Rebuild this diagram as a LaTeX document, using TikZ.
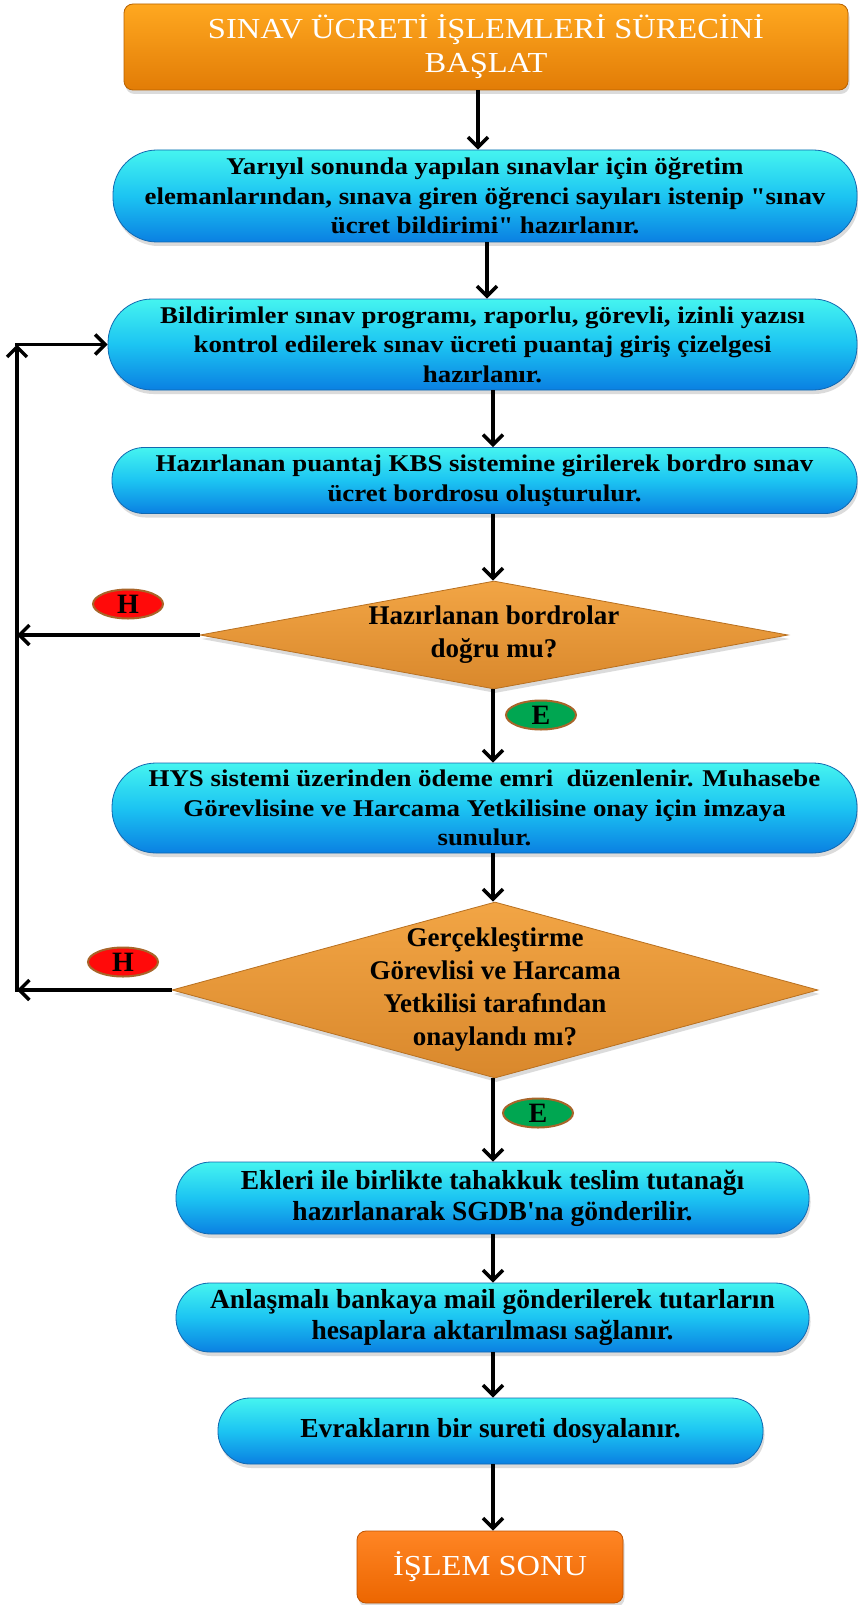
\documentclass[tikz,border=0pt]{standalone}
\usepackage{fontspec}
\setmainfont{Liberation Serif}
\newfontfamily\widefont{Liberation Serif}[FakeStretch=1.12]
\newfontfamily\narrowfont{Liberation Serif}
\usetikzlibrary{shapes.geometric,arrows.meta,shadows}
\definecolor{blueT}{HTML}{45F4F0}
\definecolor{blueM}{HTML}{1CC4F2}
\definecolor{blueB}{HTML}{0A80E2}
\definecolor{blueE}{HTML}{1268B0}
\definecolor{orT}{HTML}{FFA820}
\definecolor{orB}{HTML}{E27C06}
\definecolor{orE}{HTML}{B86200}
\definecolor{diT}{HTML}{F2A545}
\definecolor{diB}{HTML}{D9882C}
\definecolor{diE}{HTML}{B87020}
\definecolor{enT}{HTML}{FF8524}
\definecolor{enB}{HTML}{EC6600}
\definecolor{hred}{HTML}{FF0A0A}
\definecolor{egreen}{HTML}{00A651}
\definecolor{lbl}{HTML}{A8652A}
\tikzset{
  shadowed/.style={drop shadow={opacity=0.28, shadow xshift=1.5pt, shadow yshift=-4pt}},
  startbox/.style={shadowed, rounded corners=9pt, top color=orT, bottom color=orB, draw=orE, line width=0.8pt,
    text=white, align=center, inner sep=0pt, font=\widefont\fontsize{29}{34}\selectfont},
  endbox/.style={shadowed, rounded corners=9pt, top color=enT, bottom color=enB, draw=enB!80!black, line width=0.8pt,
    text=white, align=center, inner sep=0pt, font=\widefont\fontsize{29}{34}\selectfont},
  bluebox/.style={shadowed, rounded corners=#1, top color=blueT, bottom color=blueB, middle color=blueM,
    draw=blueE, line width=0.8pt, align=center, inner sep=0pt},
  widetext/.style={font=\widefont\bfseries\fontsize{24}{29.5}\selectfont},
  narrowtext/.style={font=\narrowfont\bfseries\fontsize{27.5}{31}\selectfont},
  decision/.style={shadowed, diamond, inner sep=0pt, top color=diT, bottom color=diB, draw=diE, line width=0.8pt},
  dtext/.style={align=center, inner sep=0pt, font=\narrowfont\bfseries\fontsize{27}{33}\selectfont},
  tag/.style={ellipse, draw=lbl, line width=2pt, minimum width=70pt, minimum height=29pt, inner sep=0pt,
    font=\narrowfont\bfseries\fontsize{28}{28}\selectfont},
  arr/.style={line width=3.5pt, -{Straight Barb[length=10pt,width=20pt]}},
  ln/.style={line width=3.5pt}
}
\begin{document}
\begin{tikzpicture}[x=1pt,y=1pt]
\useasboundingbox (0,0) rectangle (858,-1605);
\fill[white] (0,0) rectangle (858,-1605);

\node[startbox, minimum width=724pt, minimum height=86pt] (top) at (486,-47)
  {SINAV ÜCRETİ İŞLEMLERİ SÜRECİNİ\\BAŞLAT};
\node[bluebox=44pt, widetext, minimum width=744pt, minimum height=92pt] (b2) at (485,-196)
  {Yarıyıl sonunda yapılan sınavlar için öğretim\\elemanlarından, sınava giren öğrenci sayıları istenip "sınav\\ücret bildirimi" hazırlanır.};
\node[bluebox=44pt, widetext, minimum width=749pt, minimum height=91pt] (b3) at (482.5,-344.5)
  {Bildirimler sınav programı, raporlu, görevli, izinli yazısı\\kontrol edilerek sınav ücreti puantaj giriş çizelgesi\\hazırlanır.};
\node[bluebox=32pt, widetext, minimum width=745pt, minimum height=66pt] (b4) at (484.5,-480.5)
  {Hazırlanan puantaj KBS sistemine girilerek bordro sınav\\ücret bordrosu oluşturulur.};
\node[decision, minimum width=588pt, minimum height=108pt] (d1) at (494,-635) {};
\node[dtext] (d1t) at (d1.center) {Hazırlanan bordrolar\\doğru mu?};
\node[bluebox=44pt, widetext, minimum width=745pt, minimum height=90pt] (b5) at (484.5,-808)
  {HYS sistemi üzerinden ödeme emri\ \ düzenlenir. Muhasebe\\Görevlisine ve Harcama Yetkilisine onay için imzaya\\sunulur.};
\node[decision, minimum width=646pt, minimum height=176pt] (d2) at (495,-990) {};
\node[dtext] (d2t) at (d2.center) {Gerçekleştirme\\Görevlisi ve Harcama\\Yetkilisi tarafından\\onaylandı mı?};
\node[bluebox=35pt, narrowtext, minimum width=633pt, minimum height=72pt] (b6) at (492.5,-1198)
  {Ekleri ile birlikte tahakkuk teslim tutanağı\\hazırlanarak SGDB'na gönderilir.};
\node[bluebox=34pt, narrowtext, minimum width=633pt, minimum height=69pt] (b7) at (492.5,-1317.5)
  {Anlaşmalı bankaya mail gönderilerek tutarların\\hesaplara aktarılması sağlanır.};
\node[bluebox=32pt, narrowtext, minimum width=545pt, minimum height=66pt] (b8) at (490.5,-1431)
  {Evrakların bir sureti dosyalanır.};
\node[endbox, minimum width=266pt, minimum height=72pt] (end) at (490,-1567) {İŞLEM SONU};

\node[tag, fill=hred] (h1) at (128,-604) {H};
\node[tag, fill=egreen] (e1) at (541,-715) {E};
\node[tag, fill=hred] (h2) at (123,-962) {H};
\node[tag, fill=egreen] (e2) at (538,-1113) {E};

\coordinate (c1) at (478,0);
\coordinate (c2) at (487,0);
\coordinate (c) at (493,0);
\coordinate (L) at (17,0);

\draw[arr] (top.south -| c1) -- (b2.north -| c1);
\draw[arr] (b2.south -| c2) -- (b3.north -| c2);
\draw[arr] (b3.south -| c) -- (b4.north -| c);
\draw[arr] (b4.south -| c) -- (d1.north -| c);
\draw[arr] (d1.south -| c) -- (b5.north -| c);
\draw[arr] (b5.south -| c) -- (d2.north -| c);
\draw[arr] (d2.south -| c) -- (b6.north -| c);
\draw[arr] (b6.south -| c) -- (b7.north -| c);
\draw[arr] (b7.south -| c) -- (b8.north -| c);
\draw[arr] (b8.south -| c) -- (end.north -| c);

\draw[arr] (d1.west) -- (d1.west -| L);
\draw[arr] (d2.west) -- (d2.west -| L);
\draw[arr] ([yshift=-1.75pt]d2.west -| L) -- (b3.west -| L);
\draw[arr] ([xshift=-1.75pt]b3.west -| L) -- (b3.west);
\end{tikzpicture}
\end{document}
